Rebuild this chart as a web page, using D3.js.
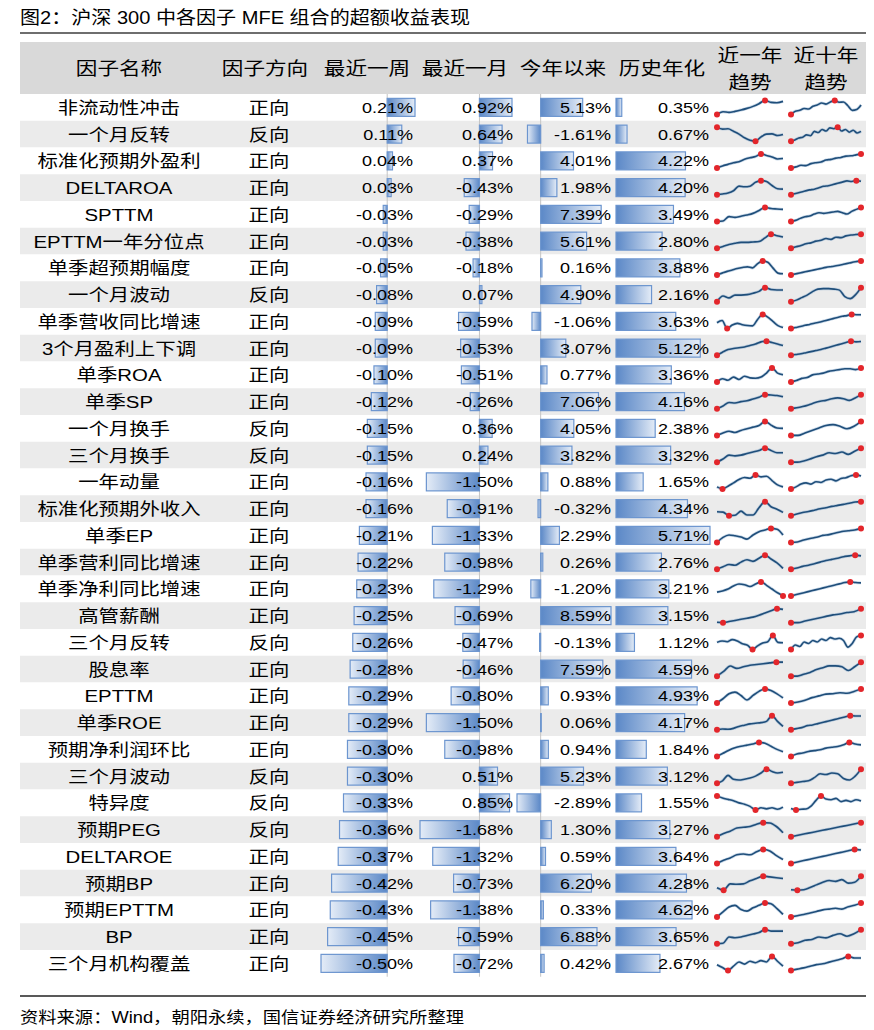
<!DOCTYPE html>
<html><head><meta charset="utf-8">
<script src="https://d3js.org/d3.v7.min.js"></script>
<style>body{margin:0;background:#fff;} svg{display:block}</style>
</head><body>
<svg width="874" height="1030"></svg>
<script>
var names = ["非流动性冲击","一个月反转","标准化预期外盈利","DELTAROA","SPTTM","EPTTM一年分位点","单季超预期幅度","一个月波动","单季营收同比增速","3个月盈利上下调","单季ROA","单季SP","一个月换手","三个月换手","一年动量","标准化预期外收入","单季EP","单季营利同比增速","单季净利同比增速","高管薪酬","三个月反转","股息率","EPTTM","单季ROE","预期净利润环比","三个月波动","特异度","预期PEG","DELTAROE","预期BP","预期EPTTM","BP","三个月机构覆盖"];
var directions = ["正向","反向","正向","正向","正向","正向","正向","反向","正向","正向","正向","正向","反向","反向","正向","正向","正向","正向","正向","正向","反向","正向","正向","正向","正向","反向","反向","反向","正向","正向","正向","正向","正向"];
var week = [0.21,0.11,0.04,0.03,-0.03,-0.03,-0.05,-0.08,-0.09,-0.09,-0.10,-0.12,-0.15,-0.15,-0.16,-0.16,-0.21,-0.22,-0.23,-0.25,-0.26,-0.28,-0.29,-0.29,-0.30,-0.30,-0.33,-0.36,-0.37,-0.42,-0.43,-0.45,-0.50];
var month = [0.92,0.64,0.37,-0.43,-0.29,-0.38,-0.18,0.07,-0.59,-0.53,-0.51,-0.26,0.36,0.24,-1.50,-0.91,-1.33,-0.98,-1.29,-0.69,-0.47,-0.46,-0.80,-1.50,-0.98,0.51,0.85,-1.68,-1.32,-0.73,-1.38,-0.59,-0.72];
var ytd = [5.13,-1.61,4.01,1.98,7.39,5.61,0.16,4.90,-1.06,3.07,0.77,7.06,4.05,3.82,0.88,-0.32,2.29,0.26,-1.20,8.59,-0.13,7.59,0.93,0.06,0.94,5.23,-2.89,1.30,0.59,6.20,0.33,6.88,0.42];
var hist = [0.35,0.67,4.22,4.20,3.49,2.80,3.88,2.16,3.63,5.12,3.36,4.16,2.38,3.32,1.65,4.34,5.71,2.76,3.21,3.15,1.12,4.59,4.93,4.17,1.84,3.12,1.55,3.27,3.64,4.28,4.62,3.65,2.67];

// sparkline shapes (relative levels)
var trend1y = [
  [0,0.8,0.6,0.9,1.3,1.8,2.4,3.2,4.2,3.6,3.5,3.9],
  [5,4.3,4.4,3.5,2.5,1.2,0.3,0,1.5,2.5,2.6,2.0,2.4],
  [0,0.5,0.9,1.3,1.6,2.2,2.6,2.9,3.6,3.2,2.8,2.3,2.4],
  [0,0.2,0.5,1.2,2.6,2.4,2.6,3.8,4.3,4.0,2.8,1.8,1.7],
  [0,0.1,1.2,1.0,1.3,1.6,2.0,2.7,3.5,3.2,3.1,3.0],
  [0,0.4,0.9,1.2,1.4,1.4,1.5,1.6,2.5,3.4,3.0,2.7],
  [0,0.5,1.0,1.4,1.8,2.1,2.3,2.0,3.2,4.0,3.6,2.0,0.5,0.3],
  [0,1.2,0.8,1.4,1.4,1.5,1.8,2.2,3.0,2.6,2.5,2.5],
  [2.0,2.8,0,1.2,1.8,1.3,1.0,0.9,3.2,5.0,4.0,2.5,1.0,0.3],
  [0,0.8,1.5,1.8,2.0,2.2,2.6,3.0,3.6,3.8,3.4,3.0,2.6],
  [0,0.8,0.4,1.2,0.6,1.4,1.0,0.9,1.2,2.2,3.5,2.2,1.8],
  [0,0.6,1.4,1.3,1.6,1.8,2.2,2.6,3.2,3.1,3.0,2.7],
  [0,0.6,1.0,0.7,1.2,1.6,2.0,2.4,3.4,2.5,1.8,1.7],
  [0,0.8,1.8,1.6,1.8,2.2,2.6,3.0,3.6,3.0,2.4,2.4],
  [0.6,0,0.8,1.8,2.8,3.4,3.2,4.2,3.6,3.8,2.5,1.2,0.6],
  [1.2,1.1,0,0.1,1.4,0.2,0.2,2.5,4.4,2.8,2.0,1.0],
  [0,1.2,1.8,1.6,1.3,0.8,1.8,2.6,3.0,3.4,3.2,1.8],
  [0,0.6,1.2,1.0,1.8,2.4,2.0,2.8,3.6,2.6,1.6,0.2],
  [1.2,1.6,2.2,3.2,3.8,3.6,3.0,3.8,4.5,3.4,2.2,1.0,0],
  [0.1,0,0.3,0.6,0.9,1.2,1.5,2.0,2.6,3.2,3.8,3.6],
  [2.0,2.4,2.2,2.8,2.4,1.6,1.2,0,1.0,1.8,2.2,4.0,2.0,1.9],
  [0,1.2,2.6,2.0,2.4,2.8,3.0,3.2,3.4,3.6,3.6],
  [0,1.0,2.2,2.6,1.8,0.7,1.8,2.8,3.4,3.0,2.2,1.2],
  [0,0.2,0.1,0.4,1.0,1.4,1.8,2.0,2.2,2.6,4.4,2.6,1.0],
  [0,0.8,1.6,2.2,2.6,2.9,3.2,3.6,3.4,2.6,1.8,1.2],
  [0,0.6,2.0,1.0,0.8,1.0,1.3,1.8,2.6,3.6,3.0,2.6,2.8],
  [4.0,3.4,3.0,2.6,2.0,1.6,1.0,0,0.6,0.3,0.6,0.2,0.8],
  [0,0.8,1.4,2.2,2.4,2.6,3.2,3.6,3.5,2.6,1.0],
  [0,0.8,1.4,2.2,2.4,2.2,3.0,3.6,3.2,2.0,1.0],
  [0.6,0,1.6,1.5,1.6,2.4,3.0,3.6,3.4,3.2,3.0],
  [0,1.2,2.4,2.8,1.8,1.4,2.2,2.8,3.4,3.2,2.0,0.6],
  [0,0.1,1.8,1.6,1.8,2.2,2.6,3.0,3.8,3.4,3.4,3.4],
  [1.6,0.8,0,1.2,2.4,1.8,2.6,2.2,2.8,2.4,4.0,2.6,1.2]
];
var trend10y = [
  [0,1.2,1.5,2.2,2.0,3.0,3.5,4.2,3.8,4.6,5.2,4.5,4.6,3.2,1.5,1.8,3.5],
  [0,0.3,0.8,1.0,1.6,1.4,2.5,2.2,3.0,2.6,3.4,3.2,3.6,2.6,3.0,2.3,2.8,2.1,2.5],
  [0,0.3,0.8,0.7,1.3,1.6,1.8,2.4,2.6,3.0,3.2,3.6,3.7,4.0,4.3],
  [0,0.4,0.8,1.2,1.6,1.8,2.3,2.8,3.0,3.4,3.8,4.2,4.6,4.4,4.7,4.5],
  [0,0.3,0.9,1.4,1.6,2.2,2.6,2.4,2.6,2.8,3.0,2.6,2.2,3.0,3.6,4.2],
  [0,0.3,0.6,1.0,1.2,1.6,1.8,2.2,2.0,2.5,2.4,2.8,3.0,3.1,3.2],
  [0,0.4,0.8,1.2,1.6,2.0,2.4,2.7,3.0,3.4,3.8,4.2,4.5],
  [0,0.3,0.8,1.3,2.0,2.5,2.6,2.6,2.5,2.3,1.0,0.6,1.4,2.8],
  [0,0.3,0.6,1.0,1.3,1.7,2.0,2.4,2.8,3.2,3.6,4.0,4.2,4.6,4.5,4.5],
  [0,0.2,0.4,0.7,1.0,1.3,1.6,2.0,2.4,2.8,3.2,3.6,4.0,3.8,3.9],
  [0,0.3,0.8,1.0,1.6,1.8,2.0,2.4,2.6,2.8,3.0,3.0,2.8,3.2],
  [0,0.2,0.5,0.9,1.4,1.8,2.0,2.4,2.6,2.4,2.0,2.6,3.4],
  [0,0,0.6,1.2,1.8,2.4,2.6,2.2,1.6,2.2,3.4],
  [0,0,0.3,0.8,1.4,1.8,2.4,2.2,2.6,2.0,2.8,3.6],
  [0,0.5,1.2,1.5,1.2,1.8,1.6,2.2,2.4,2.0,2.6,2.8,3.3,3.5,3.2],
  [0,0.5,0.9,1.2,1.6,2.0,2.3,2.7,3.0,3.3,3.6,4.0,4.1],
  [0,0.1,0.6,1.0,1.3,1.8,2.0,2.4,2.8,3.0,3.2,3.6],
  [0,0.3,0.7,1.0,1.4,1.8,2.2,2.5,2.8,3.2,3.4,3.6,3.4],
  [0,0.4,0.8,1.2,1.6,2.0,2.4,2.8,3.2,3.6,4.0,4.2,4.0,3.9],
  [0,0,0.4,0.8,1.2,1.6,2.0,2.2,2.6,2.8,3.6],
  [0,1.2,0.8,2.0,1.6,2.4,2.0,2.8,2.4,3.2,2.8,3.0,2.4,0.6,1.6,3.4,3.8],
  [0,0,0.4,0.8,1.4,1.8,2.2,2.2,2.0,1.2,2.0,3.0],
  [0,0.2,0.6,1.2,1.6,2.0,2.1,2.3,2.2,2.6,3.2],
  [0,0.3,0.6,1.2,1.4,1.8,2.2,2.6,3.0,3.4,3.8,4.2,4.1,4.1],
  [0,0.6,0.8,1.2,1.4,1.6,2.0,2.2,2.4,2.8,3.4,3.0,2.8],
  [0,0.2,0.4,0.6,1.4,2.4,2.2,2.6,2.4,1.2,0.8,1.8,3.6],
  [0.4,0,0.2,0.3,1.2,3.0,4.4,3.4,3.2,3.6,2.6,3.0,2.6,3.2,2.8],
  [0,0.4,0.8,1.2,1.6,2.0,2.4,2.8,3.2,3.6,4.0],
  [0,0.4,0.8,1.2,1.6,2.0,2.4,2.8,3.2,3.6,4.0,3.8],
  [0.1,0,0.1,0.6,1.2,1.8,2.2,2.0,2.4,1.6,1.8,3.2],
  [0,0.3,0.6,1.0,1.4,1.8,2.0,2.2,2.0,2.6,3.0,3.6],
  [0,0.2,0.8,1.0,1.6,1.4,2.0,2.4,1.8,2.4,3.4],
  [0,0.3,0.6,1.0,1.4,1.6,2.0,2.4,2.8,3.4,3.0,3.0]
];
var headers = [["因子名称"],["因子方向"],["最近一周"],["最近一月"],["今年以来"],["历史年化"],["近一年","趋势"],["近十年","趋势"]];
var title = "图2：沪深 300 中各因子 MFE 组合的超额收益表现";
var source = "资料来源：Wind，朝阳永续，国信证券经济研究所整理";

var svg = d3.select("svg");
var fam = "'Liberation Sans', Arial, 'Noto Sans CJK SC', sans-serif";
var left = 20, right = 866;
var headTop = 42, headBottom = 94;

var y = d3.scaleBand().domain(d3.range(names.length)).range([headBottom, 976.75]);
var rh = y.bandwidth();

function label(g, x, yy, s, size, anchor) {
  return g.append("text")
    .attr("transform", "translate(" + x + "," + yy + ") scale(1.2,1)")
    .attr("text-anchor", anchor)
    .attr("font-size", size)
    .attr("font-family", fam)
    .attr("fill", "#000")
    .text(s);
}

// gradients for the data bars
var defs = svg.append("defs");
function grad(id, x1, x2) {
  var gr = defs.append("linearGradient").attr("id", id).attr("x1", x1).attr("x2", x2).attr("y1", 0).attr("y2", 0);
  gr.append("stop").attr("offset", "0%").attr("stop-color", "#5b88c7");
  gr.append("stop").attr("offset", "100%").attr("stop-color", "#e4ecf7");
}
grad("gPos", 0, 1);
grad("gNeg", 1, 0);

// title
svg.append("text").attr("x", left).attr("y", 24)
  .attr("font-size", 18).attr("font-family", fam)
  .attr("textLength", 450).attr("lengthAdjust", "spacingAndGlyphs")
  .text(title);
svg.append("line").attr("x1", left).attr("x2", right).attr("y1", 33).attr("y2", 33)
  .attr("stroke", "#6e6e6e").attr("stroke-width", 2);

// header band
svg.append("rect").attr("x", left).attr("y", headTop).attr("width", right - left)
  .attr("height", headBottom - headTop).attr("fill", "#d9d9d9");
var headX = [119, 265, 367, 465, 563, 662, 750, 826];
var hg = svg.append("g");
headers.forEach(function (h, i) {
  if (h.length === 1) label(hg, headX[i], 75, h[0], 18, "middle");
  else {
    label(hg, headX[i], 62, h[0], 18, "middle");
    label(hg, headX[i], 89, h[1], 18, "middle");
  }
});

// row stripes
svg.append("g").selectAll("rect").data(names).join("rect")
  .attr("x", left).attr("width", right - left)
  .attr("y", function (d, i) { return y(i); })
  .attr("height", rh)
  .attr("fill", function (d, i) { return i % 2 ? "#ebebeb" : "#ffffff"; });

// data-bar columns
var cols = [
  {vals: week,  range: [321, 415], textX: 413},
  {vals: month, range: [420, 512], textX: 513},
  {vals: ytd,   range: [517, 611], textX: 611},
  {vals: hist,  range: [616, 710], textX: 709}
];
cols.forEach(function (c) {
  var lo = Math.min(0, d3.min(c.vals)), hi = Math.max(0, d3.max(c.vals));
  var x = d3.scaleLinear().domain([lo, hi]).range(c.range);
  var g = svg.append("g");
  if (lo < 0) {
    g.append("line").attr("x1", x(0)).attr("x2", x(0))
      .attr("y1", headBottom).attr("y2", y.range()[1])
      .attr("stroke", "#c4c4c4").attr("stroke-width", 1);
  }
  g.selectAll("rect").data(c.vals).join("rect")
    .attr("x", function (d) { return Math.min(x(d), x(0)); })
    .attr("width", function (d) { return Math.max(0.6, Math.abs(x(d) - x(0))); })
    .attr("y", function (d, i) { return y(i) + (rh - 18) / 2; })
    .attr("height", 18)
    .attr("fill", function (d) { return d < 0 ? "url(#gNeg)" : "url(#gPos)"; })
    .attr("stroke", "#6c95cf").attr("stroke-width", 1.2);
  c.vals.forEach(function (v, i) {
    label(g, c.textX, y(i) + rh / 2 + 5.5, v.toFixed(2) + "%", 15, "end");
  });
});

// name + direction columns
var tg = svg.append("g");
names.forEach(function (n, i) {
  label(tg, 119, y(i) + rh / 2 + 6.5, n, 17, "middle");
  label(tg, 269, y(i) + rh / 2 + 6.5, directions[i], 17, "middle");
});

// sparklines
function spark(series, x0, x1) {
  var g = svg.append("g");
  series.forEach(function (s, i) {
    var cy = y(i) + rh / 2;
    var sx = d3.scaleLinear().domain([0, s.length - 1]).range([x0, x1]);
    var sy = d3.scaleLinear().domain(d3.extent(s)).range([cy + 7, cy - 7]);
    var line = d3.line().x(function (d, j) { return sx(j); }).y(function (d) { return sy(d); })
      .curve(d3.curveMonotoneX);
    g.append("path").attr("d", line(s)).attr("fill", "none")
      .attr("stroke", "#8fb0d0").attr("stroke-width", 3).attr("stroke-opacity", 0.5);
    g.append("path").attr("d", line(s)).attr("fill", "none")
      .attr("stroke", "#1f4e7a").attr("stroke-width", 1.6);
    [d3.minIndex(s), d3.maxIndex(s)].forEach(function (k) {
      g.append("circle").attr("cx", sx(k)).attr("cy", sy(s[k])).attr("r", 3)
        .attr("fill", "#e3262b");
    });
  });
}
spark(trend1y, 717, 783);
spark(trend10y, 791, 861);

// footer
svg.append("line").attr("x1", left).attr("x2", right).attr("y1", 996).attr("y2", 996)
  .attr("stroke", "#222").attr("stroke-width", 1.5);
svg.append("text").attr("x", left).attr("y", 1023)
  .attr("font-size", 16).attr("font-family", fam)
  .attr("textLength", 444).attr("lengthAdjust", "spacingAndGlyphs")
  .text(source);
</script>
</body></html>
